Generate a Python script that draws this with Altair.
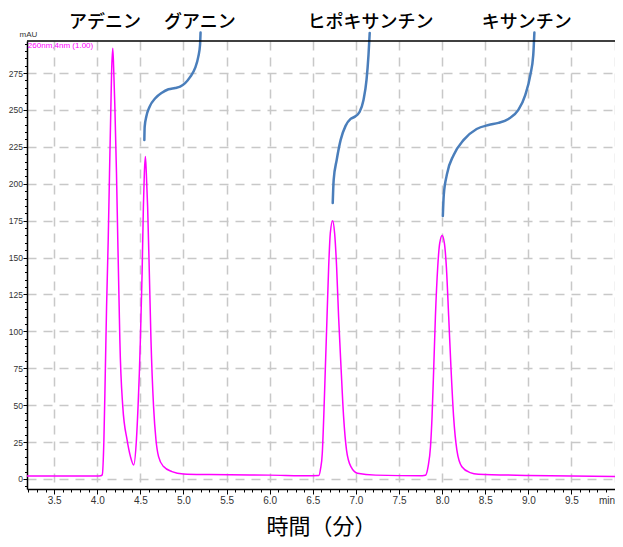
import altair as alt
import pandas as pd

# ---- chromatogram trace (time in min, absorbance in mAU) ----
trace_time = [3.185, 3.5, 3.8, 4.0, 4.04, 4.058, 4.077, 4.093, 4.108, 4.127, 4.142, 4.158,
              4.166, 4.18, 4.192, 4.204, 4.223, 4.238, 4.254, 4.262, 4.296, 4.346, 4.385,
              4.423, 4.454, 4.473, 4.488, 4.5, 4.52, 4.535, 4.546, 4.558, 4.569, 4.584,
              4.604, 4.623, 4.653, 4.681, 4.711, 4.769, 4.866, 5.0, 5.3, 6.0, 6.5, 6.57,
              6.59, 6.61, 6.627, 6.646, 6.665, 6.684, 6.703, 6.73, 6.753, 6.776, 6.799,
              6.827, 6.857, 6.891, 6.942, 7.018, 7.23, 7.77, 7.807, 7.837, 7.865, 7.883,
              7.903, 7.922, 7.949, 7.972, 8.0, 8.026, 8.049, 8.076, 8.102, 8.133, 8.171,
              8.229, 8.325, 8.42, 9.0, 9.5, 10.005]
trace_mau = [2.0, 2.0, 2.0, 2.0, 2.2, 2.9, 26.4, 71.6, 116.8, 162.0, 207.0, 252.3,
             274.9, 291.8, 274.9, 252.3, 207.0, 162.0, 116.8, 94.2, 49.0, 26.4, 15.1,
             9.5, 26.4, 49.0, 71.6, 94.2, 139.4, 184.5, 207.0, 218.5, 207.0, 184.5,
             139.4, 94.2, 49.0, 26.4, 15.1, 8.4, 5.0, 3.4, 3.0, 2.6, 2.2, 2.3,
             7.0, 17.4, 42.2, 76.0, 110.0, 143.8, 166.5, 175.0, 166.5, 143.8, 110.0,
             76.0, 42.2, 19.6, 8.3, 3.9, 2.6, 2.2, 2.5, 8.3, 21.9, 42.2,
             76.0, 110.0, 143.8, 159.7, 164.9, 159.7, 143.8, 110.0, 76.0, 42.2, 19.6,
             8.3, 4.3, 3.2, 2.4, 2.0, 1.7]

# ---- peak names and their label positions ----
peak_names = ["アデニン", "グアニン", "ヒポキサンチン", "キサンチン"]
label_time = [4.09, 5.19, 7.17, 8.98]
label_mau = [308.9, 308.9, 308.9, 308.9]

# ---- leader curves (time, mAU) from label down to peak ----
guanine_t = [4.546, 4.550, 4.569, 4.607, 4.673, 4.750, 4.826, 4.904, 4.961, 5.019,
             5.076, 5.134, 5.172, 5.192, 5.198]
guanine_v = [229.7, 238.7, 245.5, 252.2, 257.9, 261.7, 264.0, 264.9, 265.8, 268.1,
             272.2, 278.3, 286.1, 294.0, 302.5]
hypox_t = [6.731, 6.742, 6.777, 6.823, 6.880, 6.938, 6.984, 7.042, 7.088, 7.123,
           7.146, 7.160]
hypox_v = [187.0, 202.6, 216.1, 229.7, 239.2, 243.9, 245.3, 248.6, 256.8, 270.3,
           287.3, 302.2]
xanth_t = [8.008, 8.019, 8.054, 8.134, 8.250, 8.400, 8.538, 8.654, 8.769, 8.884,
           8.965, 9.023, 9.057, 9.070]
xanth_v = [178.2, 192.4, 206.0, 219.5, 229.7, 237.1, 239.8, 241.2, 243.9, 250.0,
           260.2, 273.7, 287.3, 302.5]

# ---- axis ticks ----
x_tick_values = [round(3.2 + 0.1 * i, 1) for i in range(69)]
y_tick_values = list(range(-5, 300, 5))

detector_text = ["260nm,4nm (1.00)"]
detector_time = [3.195]
detector_mau = [293.3]

W, H = 588, 448
LABEL_FONT = "Liberation Sans"
JP_FONT = "Noto Sans CJK JP"

x_scale = alt.Scale(domain=[3.185, 10.005], nice=False, zero=False)
y_scale = alt.Scale(domain=[-6.8, 296.7], nice=False, zero=False)

MAJ_X = "abs(datum.value*2 - round(datum.value*2)) < 0.001"
MAJ_Y = "datum.value % 25 === 0"

x_axis = alt.Axis(
    values=x_tick_values,
    labelExpr=("datum.value > 9.99 ? 'min' : (" + MAJ_X +
               " ? format(datum.value, '.1f') : '')"),
    labelAlign={"condition": {"test": "datum.value > 9.99", "value": "right"}, "value": "center"},
    tickSize={"condition": {"test": MAJ_X, "value": 5}, "value": 3},
    gridOpacity={"condition": {"test": MAJ_X, "value": 1}, "value": 0},
    grid=True, gridColor="#c8c8c8", gridDash=[9, 7], gridWidth=1.5,
    domainColor="black", domainWidth=1.5, tickColor="black", tickWidth=1,
    labelFont=LABEL_FONT, labelFontSize=10, labelColor="#333333", labelPadding=1,
    labelOverlap=False, labelFlush=False,
    title="時間（分）", titleFont=JP_FONT, titleFontSize=22, titleFontWeight="normal",
    titleColor="black", titleBaseline="alphabetic", titleY=44,
)
y_axis = alt.Axis(
    values=y_tick_values,
    labelExpr="(" + MAJ_Y + " && datum.value >= 0 && datum.value <= 275) ? format(datum.value, 'd') : ''",
    tickSize={"condition": {"test": MAJ_Y, "value": 4}, "value": 2.5},
    gridOpacity={"condition": {"test": MAJ_Y, "value": 1}, "value": 0},
    grid=True, gridColor="#c8c8c8", gridDash=[9, 7], gridWidth=1.5,
    domainColor="black", domainWidth=1.5, tickColor="black", tickWidth=1,
    labelFont=LABEL_FONT, labelFontSize=8.5, labelColor="#333333", labelPadding=0.5,
    labelOverlap=False, labelFlush=False,
    title="mAU", titleAngle=0, titleX=1, titleY=-3, titleAlign="center",
    titleBaseline="bottom", titleFont=LABEL_FONT, titleFontSize=8,
    titleFontWeight="normal", titleColor="#333333",
)

X = alt.X("t:Q", scale=x_scale, axis=x_axis)
Y = alt.Y("v:Q", scale=y_scale, axis=y_axis)

trace_df = pd.DataFrame({"t": trace_time, "v": trace_mau})
trace = alt.Chart(trace_df).mark_line(
    color="#ff00ff", strokeWidth=1.5, interpolate="monotone"
).encode(x=X, y=Y)

lead_rows = []
for name, ts, vs in [("g", guanine_t, guanine_v), ("h", hypox_t, hypox_v), ("x", xanth_t, xanth_v)]:
    for i, (t, v) in enumerate(zip(ts, vs)):
        lead_rows.append({"name": name, "i": i, "t": t, "v": v})
lead_df = pd.DataFrame(lead_rows)
leaders = alt.Chart(lead_df).mark_line(
    color="#4a7ebb", strokeWidth=2.5, interpolate="monotone", strokeCap="round", clip=False
).encode(x=X, y=Y, detail="name:N", order="i:Q")

label_df = pd.DataFrame({"name": peak_names, "t": label_time, "v": label_mau})
labels = alt.Chart(label_df).mark_text(
    font=JP_FONT, fontSize=18, fontWeight=500, color="black", align="center",
    baseline="middle", clip=False
).encode(x=X, y=Y, text="name:N")

det_df = pd.DataFrame({"txt": detector_text, "t": detector_time, "v": detector_mau})
detector = alt.Chart(det_df).mark_text(
    font=LABEL_FONT, fontSize=8, color="#ff00ff", align="left", baseline="middle"
).encode(x=X, y=Y, text="txt:N")

top_border = alt.Chart(pd.DataFrame({"a": [0]})).mark_rule(
    color="black", strokeWidth=1.5
).encode(y=alt.value(0), x=alt.value(0), x2=alt.value(W))

chart = alt.layer(trace, leaders, labels, detector, top_border).properties(
    width=W, height=H,
    padding={"left": 19, "top": 33, "right": 0, "bottom": 50},
    autosize=alt.AutoSizeParams(type="none"),
    background="white",
).configure_view(strokeWidth=0)

chart.save("out.html", embed_options={"renderer": "svg", "actions": False})
